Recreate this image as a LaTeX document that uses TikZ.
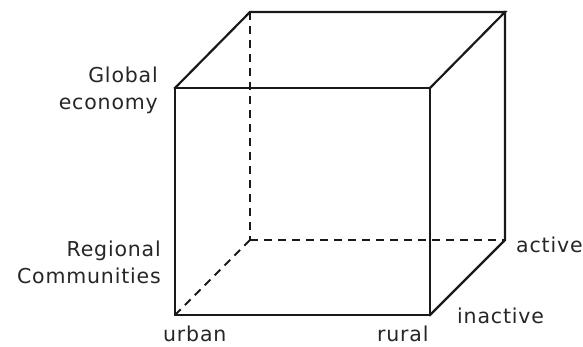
\documentclass[tikz,border=0pt]{standalone}
\usepackage{fontspec}
\setmainfont[LetterSpace=4]{DejaVu Sans}
\usetikzlibrary{positioning}

\begin{document}
\begin{tikzpicture}[
  x=1pt,y=-1pt,
  font=\fontsize{20.5}{27}\selectfont,
  edge/.style={line width=2.2pt,draw=black!90,line cap=rect},
  hidden/.style={line width=2pt,draw=black!90,dash pattern=on 8pt off 6pt},
  axislabel/.style={inner sep=0pt,text=black!85}
]
\useasboundingbox (0,0) rectangle (583,347);
% Corners of the cube
\coordinate (FTL) at (175,88);
\coordinate (FTR) at (430,88);
\coordinate (FBL) at (175,315);
\coordinate (FBR) at (430,315);
\coordinate (BTL) at (250,12);
\coordinate (BTR) at (505,12);
\coordinate (BBL) at (250,240);
\coordinate (BBR) at (505,240);
% Hidden edges
\draw[hidden] (BTL) -- (BBL);
\draw[hidden] (BBL) -- (BBR);
\draw[hidden] (BBL) -- (FBL);
% Visible edges
\draw[edge] (FTL) -- (FTR) -- (FBR) -- (FBL) -- cycle;
\draw[edge] (FTL) -- (BTL) -- (BTR) -- (FTR);
\draw[edge] (BTR) -- (BBR) -- (FBR);
% labels
\node[axislabel,anchor=base east,align=right] (global) at (158,110) {Global\\economy};
\node[axislabel,anchor=base east,align=right] (regional) at (161,283) {Regional\\Communities};
\node[axislabel,anchor=base west] (urban) at (163,341) {urban};
\node[axislabel,anchor=base west] (rural) at (377,341) {rural};
\node[axislabel,anchor=base west] (inactive) at (457,323) {inactive};
\node[axislabel,anchor=base west] (active) at (516,252) {active};
\end{tikzpicture}
\end{document}
